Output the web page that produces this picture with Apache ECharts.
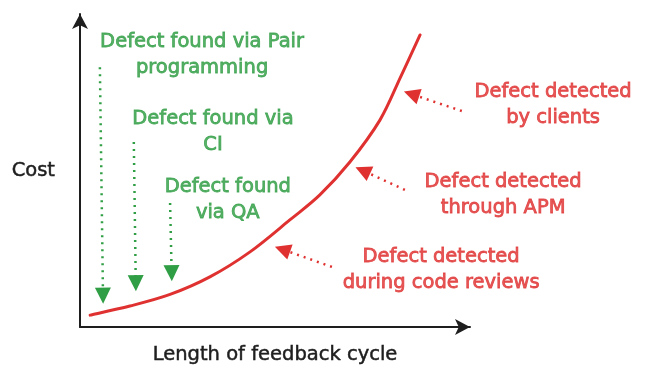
<!DOCTYPE html>
<html><head><meta charset="utf-8">
<script src="https://cdn.jsdelivr.net/npm/echarts@6/dist/echarts.min.js"></script>
<style>html,body{margin:0;padding:0;background:#fff}#c{width:654px;height:377px}</style>
</head><body><div id="c"></div>
<script>
// Cost curve (x: feedback cycle length, y: cost)
const curveX = [2.6, 12.8, 23.1, 33.3, 43.6, 53.8, 61.5, 69.2, 76.9, 82.1, 87.2];
const curveY = [3.8, 6.7, 10.4, 16.0, 24.0, 34.2, 42.2, 52.7, 66.1, 79.6, 93.3];

// Green annotations (found earlier)
const greenLabels = ['Defect found via Pair\nprogramming', 'Defect found via\nCI', 'Defect found\nvia QA'];
const greenLabelPos = [[31.3, 86.9], [34.1, 62.3], [37.9, 40.6]];
const greenArrowFrom = [[5.1, 83.0], [13.8, 59.1], [23.1, 39.6]];
const greenArrowTo = [[5.9, 10.0], [14.3, 14.0], [23.5, 17.2]];

// Red annotations (detected later)
const redLabels = ['Defect detected\nby clients', 'Defect detected\nthrough APM', 'Defect detected\nduring code reviews'];
const redLabelPos = [[121.3, 70.9], [108.5, 42.2], [92.6, 18.2]];
const redArrowFrom = [[97.9, 69.0], [83.3, 43.8], [64.6, 19.2]];
const redArrowTo = [[85.0, 74.4], [72.5, 50.0], [51.9, 24.8]];

const axisNames = { x: 'Length of feedback cycle', y: 'Cost' };

const GREEN = '#2f9e44', RED = '#e03131', INK = '#1e1e1e';
const FONT = 'DejaVu Sans';

function arrowData(from, to) {
  return from.map((f, i) => ({ coords: [f, to[i]] }));
}
function labelData(pos, labels) {
  return pos.map((p, i) => ({ value: p, name: labels[i] }));
}
function labelStyle(color) {
  return { show: true, position: 'inside', formatter: p => p.name, color: color,
    fontFamily: FONT, fontSize: 19.5, lineHeight: 26, align: 'center',
    textBorderColor: color, textBorderWidth: 0.8 };
}

// Smooth curve through the data points (Catmull-Rom), positioned by the axes via api.coord
function renderCurve(params, api) {
  if (params.dataIndex !== 0) return;
  const pts = curveX.map((x, i) => api.coord([x, curveY[i]]));
  const n = pts.length;
  let d = 'M' + pts[0][0] + ' ' + pts[0][1];
  for (let i = 0; i < n - 1; i++) {
    const p0 = pts[Math.max(i - 1, 0)], p1 = pts[i], p2 = pts[i + 1], p3 = pts[Math.min(i + 2, n - 1)];
    const c1x = p1[0] + (p2[0] - p0[0]) / 6, c1y = p1[1] + (p2[1] - p0[1]) / 6;
    const c2x = p2[0] - (p3[0] - p1[0]) / 6, c2y = p2[1] - (p3[1] - p1[1]) / 6;
    d += ' C' + c1x + ' ' + c1y + ' ' + c2x + ' ' + c2y + ' ' + p2[0] + ' ' + p2[1];
  }
  return { type: 'path', shape: { pathData: d },
    style: { fill: 'none', stroke: RED, lineWidth: 3, lineCap: 'round' } };
}

const chart = echarts.init(document.getElementById('c'), null, { renderer: 'canvas' });
chart.setOption({
  animation: false,
  grid: { left: 80, top: 14, width: 390, height: 313, containLabel: false, outerBoundsMode: 'none' },
  xAxis: {
    type: 'value', min: 0, max: 100,
    name: axisNames.x, nameLocation: 'middle', nameGap: 18,
    nameTextStyle: { color: INK, fontFamily: FONT, fontSize: 19.5, textBorderColor: INK, textBorderWidth: 0.5 },
    axisLine: { show: true, symbol: ['none', 'arrow'], symbolSize: [12, 15], lineStyle: { color: INK, width: 2 } },
    axisTick: { show: false }, axisLabel: { show: false }, splitLine: { show: false }
  },
  yAxis: {
    type: 'value', min: 0, max: 100,
    name: axisNames.y, nameLocation: 'middle', nameGap: 25, nameRotate: 0,
    nameTextStyle: { color: INK, fontFamily: FONT, fontSize: 19.5, textBorderColor: INK, textBorderWidth: 0.5 },
    axisLine: { show: true, symbol: ['none', 'arrow'], symbolSize: [12, 15], lineStyle: { color: INK, width: 2 } },
    axisTick: { show: false }, axisLabel: { show: false }, splitLine: { show: false }
  },
  series: [
    {
      type: 'custom', renderItem: renderCurve, clip: false,
      data: curveX.map((x, i) => [x, curveY[i]])
    },
    {
      type: 'lines', coordinateSystem: 'cartesian2d',
      symbol: ['none', 'triangle'], symbolSize: [0, 16],
      lineStyle: { color: GREEN, width: 2.5, type: [2, 5], opacity: 1 },
      itemStyle: { color: GREEN },
      data: arrowData(greenArrowFrom, greenArrowTo)
    },
    {
      type: 'lines', coordinateSystem: 'cartesian2d',
      symbol: ['none', 'triangle'], symbolSize: [0, 16],
      lineStyle: { color: RED, width: 2.5, type: [2, 5], opacity: 1 },
      itemStyle: { color: RED },
      data: arrowData(redArrowFrom, redArrowTo)
    },
    {
      type: 'scatter', symbolSize: 0, clip: false,
      data: labelData(greenLabelPos, greenLabels),
      label: labelStyle(GREEN)
    },
    {
      type: 'scatter', symbolSize: 0, clip: false,
      data: labelData(redLabelPos, redLabels),
      label: labelStyle(RED)
    }
  ]
});
</script></body></html>
